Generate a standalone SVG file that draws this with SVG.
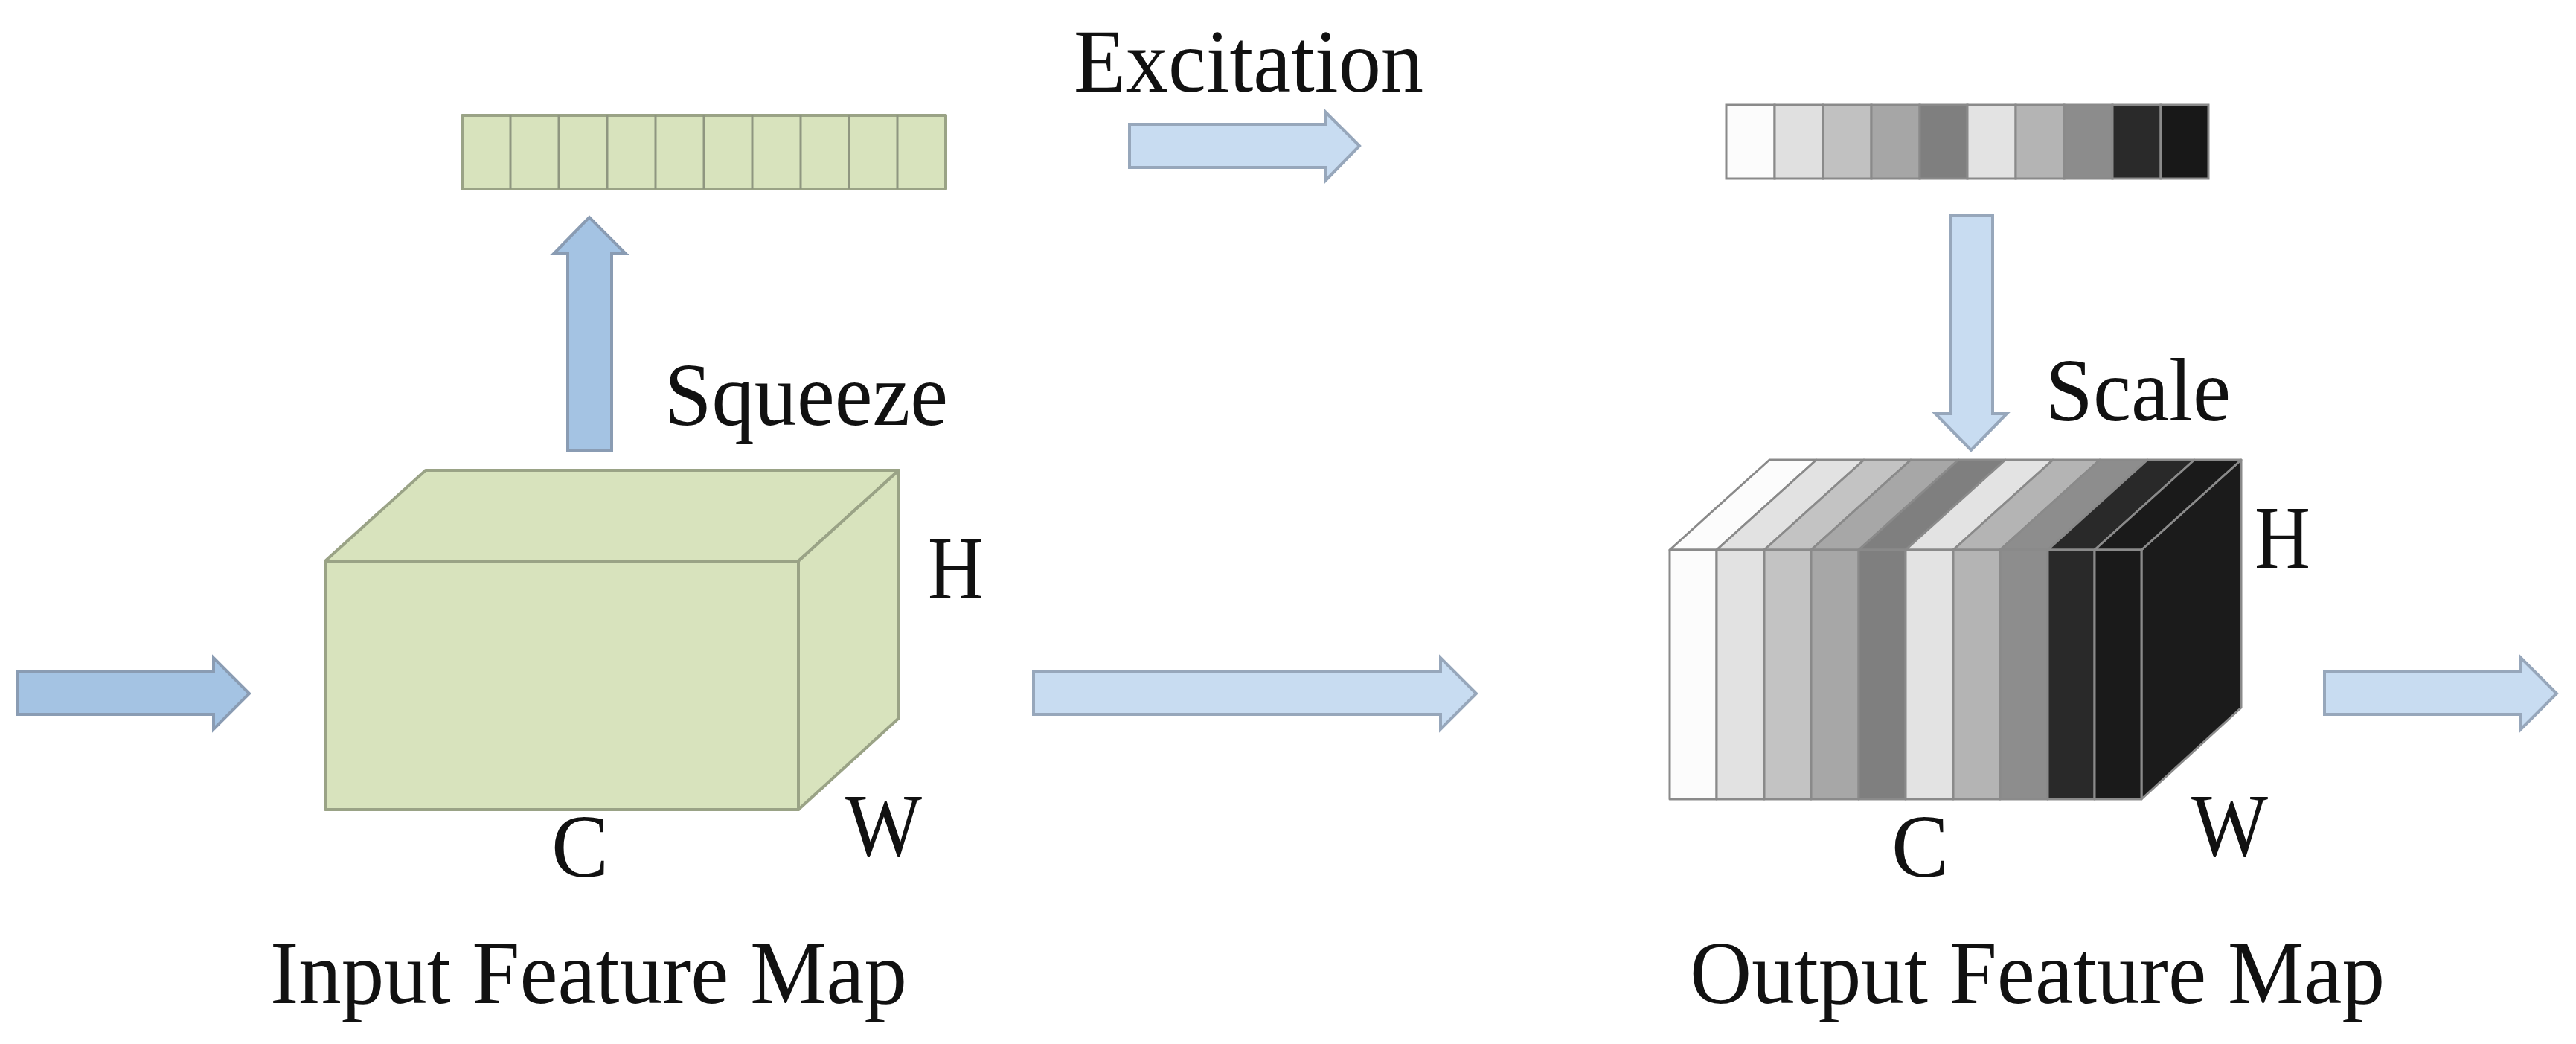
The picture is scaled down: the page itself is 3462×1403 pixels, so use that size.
<svg xmlns="http://www.w3.org/2000/svg" width="3462" height="1403" viewBox="0 0 3462 1403">
<defs>
<style>
.t{font-family:"Liberation Serif","Times New Roman",serif;font-size:120px;fill:#111}
.arrD{fill:#a4c3e3;stroke:#8a9cb3;stroke-width:4}
.arrL{fill:#c8dcf1;stroke:#97a7bb;stroke-width:4}
.grn{fill:#d8e3bd;stroke:#9aa386;stroke-width:4;stroke-linejoin:round}
.cell{stroke:#8f9680;stroke-width:3}
.gcell{stroke:#8a8a8a;stroke-width:3}
</style>
</defs>
<rect width="3462" height="1403" fill="#fff"/>

<g id="connectors">
<polygon id="arrow-in" class="arrD" points="23,903 287,903 287,884 335,932 287,980 287,960 23,960"/>
<polygon id="arrow-squeeze" class="arrD" points="763,605 763,341 744,341 792,292 841,341 822,341 822,605"/>
<polygon id="arrow-excitation" class="arrL" points="1518,167 1781,167 1781,150 1827,196 1781,243 1781,225 1518,225"/>
<polygon id="arrow-scale" class="arrL" points="2621,290 2678,290 2678,556 2697,556 2649,605 2601,556 2621,556"/>
<polygon id="arrow-mid" class="arrL" points="1389,903 1936,903 1936,884 1984,932 1936,980 1936,960 1389,960"/>
<polygon id="arrow-out" class="arrL" points="3124,903 3388,903 3388,884 3436,932 3388,980 3388,960 3124,960"/>
</g>

<g id="squeeze-vector">
<rect class="grn" x="621" y="155" width="650" height="99"/>
<g class="cell">
<line x1="686" y1="155" x2="686" y2="254"/><line x1="751" y1="155" x2="751" y2="254"/>
<line x1="816" y1="155" x2="816" y2="254"/><line x1="881" y1="155" x2="881" y2="254"/>
<line x1="946" y1="155" x2="946" y2="254"/><line x1="1011" y1="155" x2="1011" y2="254"/>
<line x1="1076" y1="155" x2="1076" y2="254"/><line x1="1141" y1="155" x2="1141" y2="254"/>
<line x1="1206" y1="155" x2="1206" y2="254"/>
</g>
</g>

<g id="excitation-vector" class="gcell">
<rect x="2320" y="141" width="65" height="99" fill="#fcfcfc"/>
<rect x="2385" y="141" width="65" height="99" fill="#e0e0e0"/>
<rect x="2450" y="141" width="65" height="99" fill="#c1c1c1"/>
<rect x="2515" y="141" width="65" height="99" fill="#a6a6a6"/>
<rect x="2580" y="141" width="64" height="99" fill="#7f7f7f"/>
<rect x="2644" y="141" width="65" height="99" fill="#e3e3e3"/>
<rect x="2709" y="141" width="65" height="99" fill="#b4b4b4"/>
<rect x="2774" y="141" width="65" height="99" fill="#8c8c8c"/>
<rect x="2839" y="141" width="65" height="99" fill="#2a2a2a"/>
<rect x="2904" y="141" width="64" height="99" fill="#181818"/>
</g>

<g id="input-feature-map">
<polygon class="grn" points="437,754 572,632 1208,632 1073,754"/>
<polygon class="grn" points="1073,754 1208,632 1208,965 1073,1088"/>
<rect class="grn" x="437" y="754" width="636" height="334"/>
<text class="t" x="1247" y="804" textLength="75" lengthAdjust="spacingAndGlyphs">H</text>
<text class="t" x="1136" y="1150" textLength="103" lengthAdjust="spacingAndGlyphs">W</text>
<text class="t" x="741" y="1178" textLength="77" lengthAdjust="spacingAndGlyphs">C</text>
<text class="t" x="363" y="1348" textLength="856" lengthAdjust="spacingAndGlyphs">Input Feature Map</text>
</g>

<g id="output-feature-map" stroke="#8a8a8a" stroke-width="3" stroke-linejoin="round">
<polygon points="2878,739 3012,618 3012,951 2878,1074" fill="#1b1b1b"/>
<polygon points="2244,739 2378,618 2441,618 2307,739" fill="#fcfcfc"/>
<polygon points="2307,739 2441,618 2505,618 2371,739" fill="#e2e2e2"/>
<polygon points="2371,739 2505,618 2568,618 2434,739" fill="#c3c3c3"/>
<polygon points="2434,739 2568,618 2632,618 2498,739" fill="#a7a7a7"/>
<polygon points="2498,739 2632,618 2695,618 2561,739" fill="#7f7f7f"/>
<polygon points="2561,739 2695,618 2759,618 2625,739" fill="#e3e3e3"/>
<polygon points="2625,739 2759,618 2822,618 2688,739" fill="#b4b4b4"/>
<polygon points="2688,739 2822,618 2886,618 2752,739" fill="#8d8d8d"/>
<polygon points="2752,739 2886,618 2949,618 2815,739" fill="#292929"/>
<polygon points="2815,739 2949,618 3012,618 2878,739" fill="#1a1a1a"/>
<rect x="2244" y="739" width="63" height="335" fill="#fcfcfc"/>
<rect x="2307" y="739" width="64" height="335" fill="#e2e2e2"/>
<rect x="2371" y="739" width="63" height="335" fill="#c3c3c3"/>
<rect x="2434" y="739" width="64" height="335" fill="#a7a7a7"/>
<rect x="2498" y="739" width="63" height="335" fill="#7f7f7f"/>
<rect x="2561" y="739" width="64" height="335" fill="#e3e3e3"/>
<rect x="2625" y="739" width="63" height="335" fill="#b4b4b4"/>
<rect x="2688" y="739" width="64" height="335" fill="#8d8d8d"/>
<rect x="2752" y="739" width="63" height="335" fill="#292929"/>
<rect x="2815" y="739" width="63" height="335" fill="#1a1a1a"/>
<g stroke="none">
<text class="t" x="3030" y="763" textLength="75" lengthAdjust="spacingAndGlyphs">H</text>
<text class="t" x="2945" y="1150" textLength="103" lengthAdjust="spacingAndGlyphs">W</text>
<text class="t" x="2542" y="1178" textLength="77" lengthAdjust="spacingAndGlyphs">C</text>
<text class="t" x="2271" y="1348" textLength="934" lengthAdjust="spacingAndGlyphs">Output Feature Map</text>
</g>
</g>

<g id="labels">
<text class="t" x="1443" y="123" textLength="470" lengthAdjust="spacingAndGlyphs">Excitation</text>
<text class="t" x="893" y="571" textLength="381" lengthAdjust="spacingAndGlyphs">Squeeze</text>
<text class="t" x="2749" y="565" textLength="249" lengthAdjust="spacingAndGlyphs">Scale</text>
</g>
</svg>
